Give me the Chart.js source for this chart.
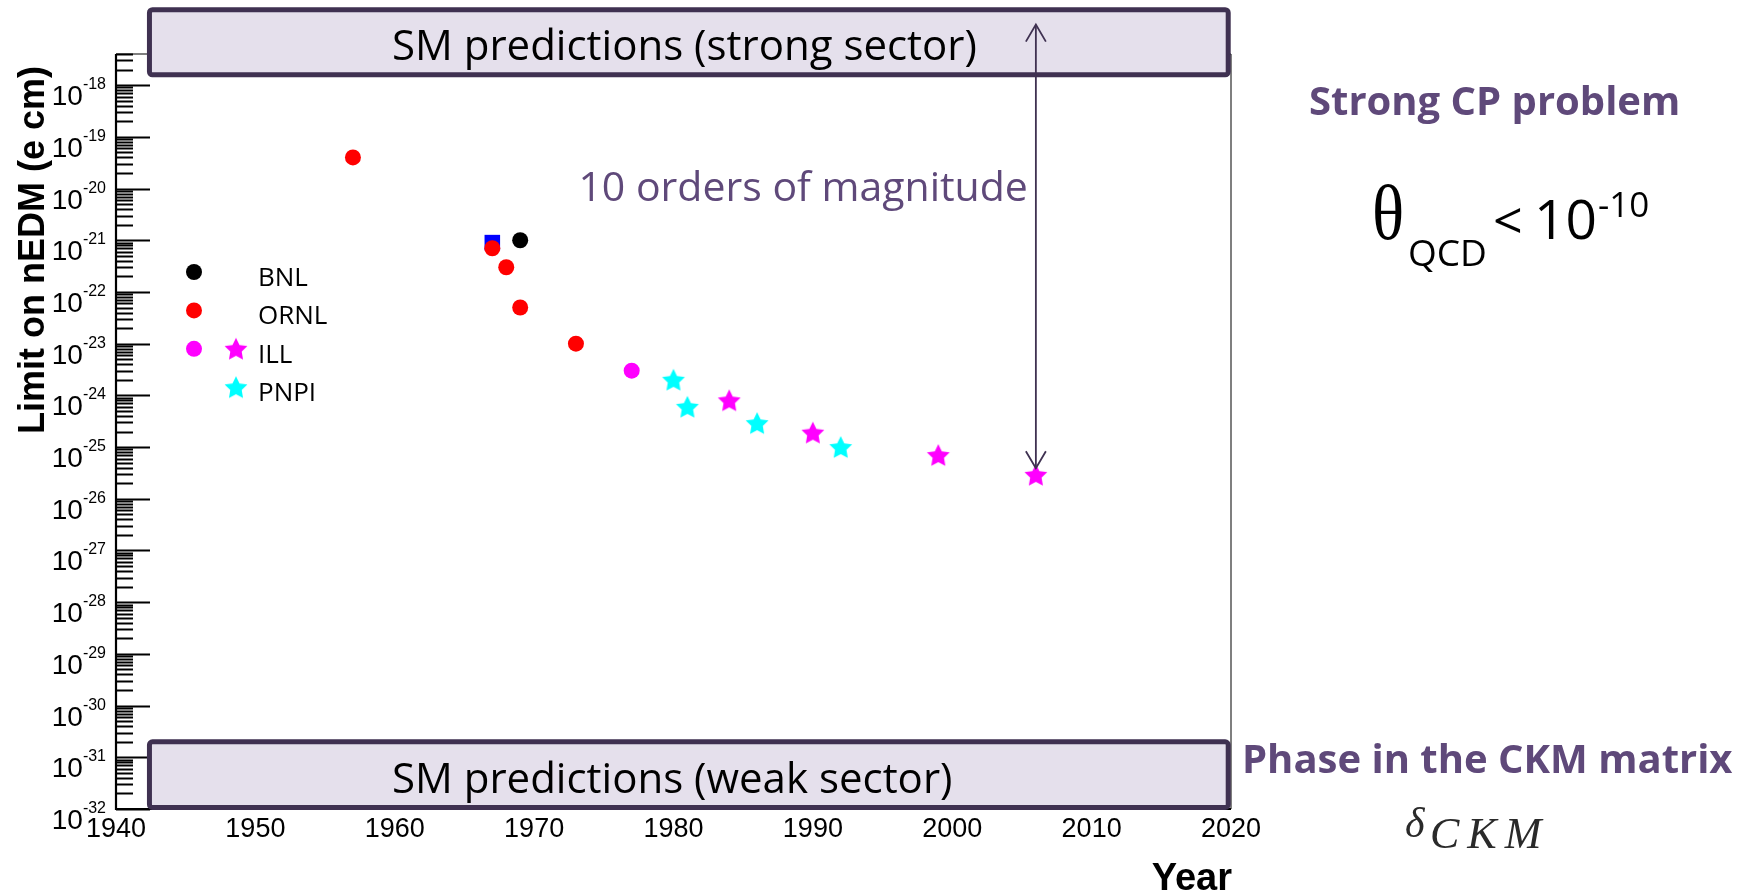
<!DOCTYPE html>
<html>
<head>
<meta charset="utf-8">
<title>Neutron EDM limits</title>
<script src="https://cdn.jsdelivr.net/npm/chart.js@4.4.1/dist/chart.umd.min.js"></script>
<style>
  html, body { margin: 0; padding: 0; background: #fff; }
  #wrap { position: relative; width: 1747px; height: 896px; }
</style>
</head>
<body>
<div id="wrap"><canvas id="edmChart"></canvas></div>
<script>
// upper limits on the neutron EDM (e cm), one pair of arrays per experiment
const bnlYears = [1969];
const bnlLimits = [1.0e-21];
const ornlYears = [1957, 1967, 1968, 1969, 1973];
const ornlLimits = [4.0e-20, 7.0e-22, 3.0e-22, 5.0e-23, 1.0e-23];
const illDotYears = [1977];
const illDotLimits = [3.0e-24];
const illStarYears = [1984, 1990, 1999, 2006];
const illStarLimits = [8.0e-25, 1.9e-25, 7.0e-26, 2.9e-26];
const pnpiYears = [1980, 1981, 1986, 1992];
const pnpiLimits = [2.0e-24, 6.0e-25, 2.9e-25, 1.0e-25];
const squareYears = [1967];
const squareLimits = [9.0e-22];

// axis ticks
const yearTicks = [1940, 1950, 1960, 1970, 1980, 1990, 2000, 2010, 2020];
const decadeExponents = [-18, -19, -20, -21, -22, -23, -24, -25, -26, -27, -28, -29, -30, -31, -32];

// SM prediction bands (log10 of e cm) and the span of the arrow between them
const bandYears = [1942.4, 2019.8];
const strongBand = [-17.8, -16.54];
const weakBand = [-31.97, -30.7];
const arrowYear = 2006;
const arrowSpan = [-25.41, -16.83];

const BAND_EDGE = '#3f3151';
const BAND_FILL = '#e5e0ec';
const PURPLE = '#5f497a';

function starMarker(color) {
  const size = 28;
  const c = document.createElement('canvas');
  c.width = size; c.height = size;
  const g = c.getContext('2d');
  const R = 12, r = 6;
  g.beginPath();
  for (let i = 0; i < 10; i++) {
    const rad = i % 2 ? r : R;
    const a = -Math.PI / 2 + i * Math.PI / 5;
    g.lineTo(size / 2 + rad * Math.cos(a), size / 2 + 1 + rad * Math.sin(a));
  }
  g.closePath();
  g.fillStyle = color;
  g.fill();
  return c;
}

const magentaStar = starMarker('#ff00ff');
const cyanStar = starMarker('#00ffff');

function pairs(xs, ys) {
  return xs.map((x, i) => ({ x: x, y: ys[i] }));
}

function dotSet(label, xs, ys, color) {
  return {
    label: label, data: pairs(xs, ys),
    pointStyle: 'circle', pointRadius: 8, pointHoverRadius: 8,
    pointBackgroundColor: color, pointBorderWidth: 0, showLine: false, clip: false
  };
}

function starSet(label, xs, ys, img) {
  return {
    label: label, data: pairs(xs, ys),
    pointStyle: img, pointRadius: 12, showLine: false, clip: false
  };
}

function drawBand(ctx, xs, ys, span, label) {
  const left = xs.getPixelForValue(bandYears[0]);
  const right = xs.getPixelForValue(bandYears[1]);
  const top = ys.getPixelForValue(Math.pow(10, span[1]));
  const bottom = ys.getPixelForValue(Math.pow(10, span[0]));
  ctx.save();
  ctx.beginPath();
  ctx.roundRect(left, top, right - left, bottom - top, 3);
  ctx.fillStyle = BAND_FILL;
  ctx.fill();
  ctx.lineWidth = 5;
  ctx.strokeStyle = BAND_EDGE;
  ctx.stroke();
  ctx.fillStyle = '#000';
  ctx.font = '42px "Open Sans"';
  ctx.textAlign = 'left';
  ctx.textBaseline = 'alphabetic';
  ctx.fillText(label, 392, (top + bottom) / 2 + 18);
  ctx.restore();
}

function arrowHead(ctx, x, y, dir) {
  ctx.beginPath();
  ctx.moveTo(x - 10, y - dir * 17);
  ctx.lineTo(x, y);
  ctx.lineTo(x + 10, y - dir * 17);
  ctx.stroke();
}

const axesPlugin = {
  id: 'rootAxes',
  beforeDatasetsDraw(chart) {
    const ctx = chart.ctx;
    const area = chart.chartArea;
    const xs = chart.scales.x, ys = chart.scales.y;
    ctx.save();
    // frame
    ctx.strokeStyle = '#555';
    ctx.lineWidth = 1.5;
    ctx.beginPath();
    ctx.moveTo(area.right, area.top);
    ctx.lineTo(area.right, area.bottom);
    ctx.stroke();
    ctx.strokeStyle = '#000';
    ctx.lineWidth = 1.2;
    ctx.beginPath();
    ctx.moveTo(area.left, area.top);
    ctx.lineTo(area.right, area.top);
    ctx.stroke();
    ctx.lineWidth = 2.2;
    ctx.beginPath();
    ctx.moveTo(area.left, area.top);
    ctx.lineTo(area.left, area.bottom);
    ctx.lineTo(area.right, area.bottom);
    ctx.stroke();

    // log ticks on the y axis, pointing into the frame
    ctx.lineWidth = 2;
    for (let e = -32; e <= -18; e++) {
      for (let k = 1; k <= 9; k++) {
        const v = k * Math.pow(10, e);
        if (v > ys.max * 1.0001 || v < ys.min * 0.9999) continue;
        const py = Math.round(ys.getPixelForValue(v)) + 0.5;
        ctx.beginPath();
        ctx.moveTo(area.left, py);
        ctx.lineTo(area.left + (k === 1 ? 34 : 17), py);
        ctx.stroke();
      }
    }

    // y tick labels: 10 with a raised exponent
    ctx.fillStyle = '#000';
    ctx.textBaseline = 'alphabetic';
    decadeExponents.forEach(e => {
      const py = ys.getPixelForValue(Math.pow(10, e));
      const sup = '-' + String(-e);
      ctx.font = '16px "Liberation Sans"';
      const supW = ctx.measureText(sup).width;
      const right = area.left - 10;
      ctx.textAlign = 'right';
      ctx.fillText(sup, right, py + 4);
      ctx.font = '28px "Liberation Sans"';
      ctx.fillText('10', right - supW, py + 20);
    });

    // x tick labels
    ctx.font = '27px "Liberation Sans"';
    ctx.textAlign = 'center';
    yearTicks.forEach(yr => {
      ctx.fillText(String(yr), xs.getPixelForValue(yr), area.bottom + 28);
    });

    // axis titles
    ctx.font = 'bold 38px "Liberation Sans"';
    ctx.textAlign = 'right';
    ctx.fillText('Year', area.right + 1, area.bottom + 81);
    ctx.save();
    ctx.translate(34, area.top + 12);
    ctx.rotate(-Math.PI / 2);
    ctx.font = 'bold 36px "Liberation Sans"';
    ctx.textAlign = 'right';
    ctx.textBaseline = 'middle';
    ctx.fillText('Limit on nEDM (e cm)', 0, 0);
    ctx.restore();
    ctx.restore();
  },
  afterDatasetsDraw(chart) {
    const ctx = chart.ctx;
    const area = chart.chartArea;
    const xs = chart.scales.x, ys = chart.scales.y;

    drawBand(ctx, xs, ys, strongBand, 'SM predictions (strong sector)');
    drawBand(ctx, xs, ys, weakBand, 'SM predictions (weak sector)');

    // ten decades between the strong-sector band and the latest limit
    const ax = xs.getPixelForValue(arrowYear);
    const aLow = ys.getPixelForValue(Math.pow(10, arrowSpan[0]));
    const aHigh = ys.getPixelForValue(Math.pow(10, arrowSpan[1]));
    ctx.save();
    ctx.strokeStyle = BAND_EDGE;
    ctx.lineWidth = 1.8;
    ctx.beginPath();
    ctx.moveTo(ax, aHigh);
    ctx.lineTo(ax, aLow);
    ctx.stroke();
    arrowHead(ctx, ax, aLow, 1);
    arrowHead(ctx, ax, aHigh, -1);
    ctx.fillStyle = PURPLE;
    ctx.font = '41px "Open Sans"';
    ctx.textAlign = 'right';
    ctx.textBaseline = 'alphabetic';
    ctx.fillText('10 orders of magnitude', ax - 8, 201);
    ctx.restore();

    // legend
    const rows = [
      { label: 'BNL', dot: '#000000', star: null },
      { label: 'ORNL', dot: '#ff0000', star: null },
      { label: 'ILL', dot: '#ff00ff', star: magentaStar },
      { label: 'PNPI', dot: null, star: cyanStar }
    ];
    ctx.save();
    ctx.font = '26px "Open Sans"';
    ctx.textAlign = 'left';
    rows.forEach((row, i) => {
      const base = area.top + 232 + i * 38.4;
      if (row.dot) {
        ctx.beginPath();
        ctx.arc(area.left + 78, base - 14, 8, 0, Math.PI * 2);
        ctx.fillStyle = row.dot;
        ctx.fill();
      }
      if (row.star) {
        ctx.drawImage(row.star, area.left + 120 - 14, base - 14 - 14);
      }
      ctx.fillStyle = '#000';
      ctx.fillText(row.label, area.left + 142, base);
    });
    ctx.restore();

    // notes beside the plot
    ctx.save();
    ctx.textAlign = 'left';
    ctx.textBaseline = 'alphabetic';
    ctx.fillStyle = PURPLE;
    ctx.font = 'bold 40px "Open Sans"';
    ctx.fillText('Strong CP problem', 1309, 115);
    ctx.fillText('Phase in the CKM matrix', 1242, 773);

    ctx.fillStyle = '#000';
    ctx.save();
    ctx.translate(1372, 239);
    ctx.scale(0.86, 1);
    ctx.font = '78px "Liberation Serif"';
    ctx.fillText('\u03b8', 0, 0);
    ctx.restore();
    ctx.font = '37px "Open Sans"';
    ctx.fillText('QCD', 1408, 266);
    ctx.font = '52px "Open Sans"';
    ctx.fillText('<', 1493, 239);
    ctx.font = '55px "Open Sans"';
    ctx.fillText('10', 1534, 239);
    ctx.font = '35px "Open Sans"';
    ctx.fillText('-10', 1598, 217);

    ctx.fillStyle = '#2a2a2a';
    ctx.font = 'italic 42px "Liberation Serif"';
    ctx.fillText('\u03b4', 1405, 837);
    ctx.font = 'italic 44px "Liberation Serif"';
    ctx.letterSpacing = '8px';
    ctx.fillText('CKM', 1430, 848);
    ctx.restore();
  }
};

const chart = new Chart(document.getElementById('edmChart'), {
  type: 'scatter',
  data: {
    datasets: [
      dotSet('BNL', bnlYears, bnlLimits, '#000000'),
      dotSet('ORNL', ornlYears, ornlLimits, '#ff0000'),
      dotSet('ILL', illDotYears, illDotLimits, '#ff00ff'),
      starSet('ILL', illStarYears, illStarLimits, magentaStar),
      starSet('PNPI', pnpiYears, pnpiLimits, cyanStar),
      {
        label: 'Other', data: pairs(squareYears, squareLimits),
        pointStyle: 'rect', pointRadius: 11, pointBackgroundColor: '#0000ff',
        pointBorderWidth: 0, showLine: false, clip: false
      }
    ]
  },
  options: {
    responsive: true,
    maintainAspectRatio: false,
    animation: false,
    events: [],
    layout: { padding: { left: 116, top: 54, right: 516, bottom: 87 } },
    scales: {
      x: { type: 'linear', min: 1940, max: 2020, bounds: 'data', display: false },
      y: { type: 'logarithmic', min: 1e-32, max: 4e-18, bounds: 'data', display: false }
    },
    plugins: {
      legend: { display: false },
      tooltip: { enabled: false }
    }
  },
  plugins: [axesPlugin]
});
</script>
</body>
</html>
